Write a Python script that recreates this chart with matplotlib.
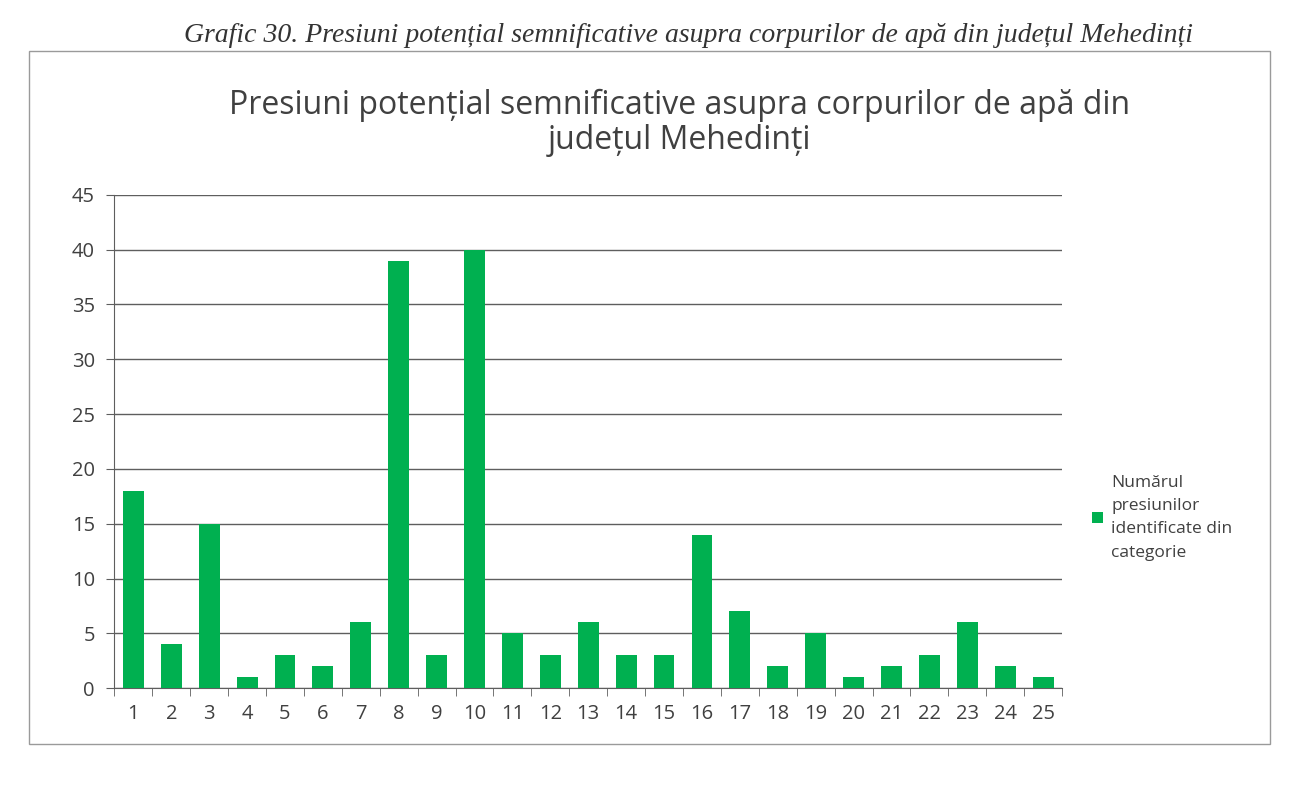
import matplotlib
matplotlib.use("Agg")
import matplotlib.pyplot as plt
from matplotlib.patches import Rectangle

# categories 1..25 and the number of pressures
categories = [str(i) for i in range(1, 26)]
values = [18, 4, 15, 1, 3, 2, 6, 39, 3, 40, 5, 3, 6, 3, 3, 14, 7, 2, 5, 1, 2, 3, 6, 2, 1]
y_ticks = [0, 5, 10, 15, 20, 25, 30, 35, 40, 45]

title = "Presiuni potențial semnificative asupra corpurilor de apă din\njudețul Mehedinți"
caption = "Grafic 30. Presiuni potențial semnificative asupra corpurilor de apă din județul Mehedinți"
legend_label = "Numărul\npresiunilor\nidentificate din\ncategorie"

green = "#00B050"
text_col = "#404040"
sans = ["Open Sans", "DejaVu Sans"]

fig = plt.figure(figsize=(13, 7.92), dpi=100)

# chart area border
fig.patches.append(Rectangle((0.022, 0.06), 0.955, 0.875, transform=fig.transFigure,
                             fill=False, edgecolor="#9a9a9a", linewidth=1.0))

# document caption above the chart
fig.text(0.53, 0.955, caption, ha="center", va="center", fontsize=20,
         family=["Liberation Serif", "DejaVu Serif"], style="italic", color="#333333")

fig.text(0.523, 0.845, title, ha="center", va="center", fontsize=23,
         family=sans, color=text_col, linespacing=1.1)

ax = fig.add_axes([0.088, 0.131, 0.729, 0.623])
x = list(range(len(categories)))
bars = ax.bar(x, values, width=0.55, color=green, zorder=3,
              label=legend_label)

ax.set_xlim(-0.5, len(categories) - 0.5)
ax.set_ylim(0, 45)
ax.set_yticks(y_ticks)
ax.set_yticklabels([str(v) for v in y_ticks], family=sans, fontsize=14.5, color=text_col)
ax.yaxis.grid(True, color="#5e5e5e", linewidth=1.0, zorder=0)

# category labels centred, tick marks between categories
ax.set_xticks(x)
ax.set_xticklabels(categories, family=sans, fontsize=14.5, color=text_col)
ax.tick_params(axis="x", which="major", length=0, pad=11)
ax.set_xticks([i - 0.5 for i in range(len(categories) + 1)], minor=True)
ax.tick_params(axis="x", which="minor", length=6, direction="out", color="#5e5e5e")
ax.tick_params(axis="y", length=6, direction="out", color="#5e5e5e", pad=8)

for side in ["top", "right"]:
    ax.spines[side].set_visible(False)
for side in ["left", "bottom"]:
    ax.spines[side].set_color("#5e5e5e")

leg = fig.legend(handles=[bars], labels=[legend_label], loc="upper left",
                 bbox_to_anchor=(0.828, 0.42), frameon=False, handlelength=0.65,
                 handleheight=0.65, handletextpad=0.45,
                 prop={"family": sans, "size": 12.5})
for t in leg.get_texts():
    t.set_color(text_col)
    t.set_linespacing(1.6)

fig.savefig("out.png", dpi=100)
